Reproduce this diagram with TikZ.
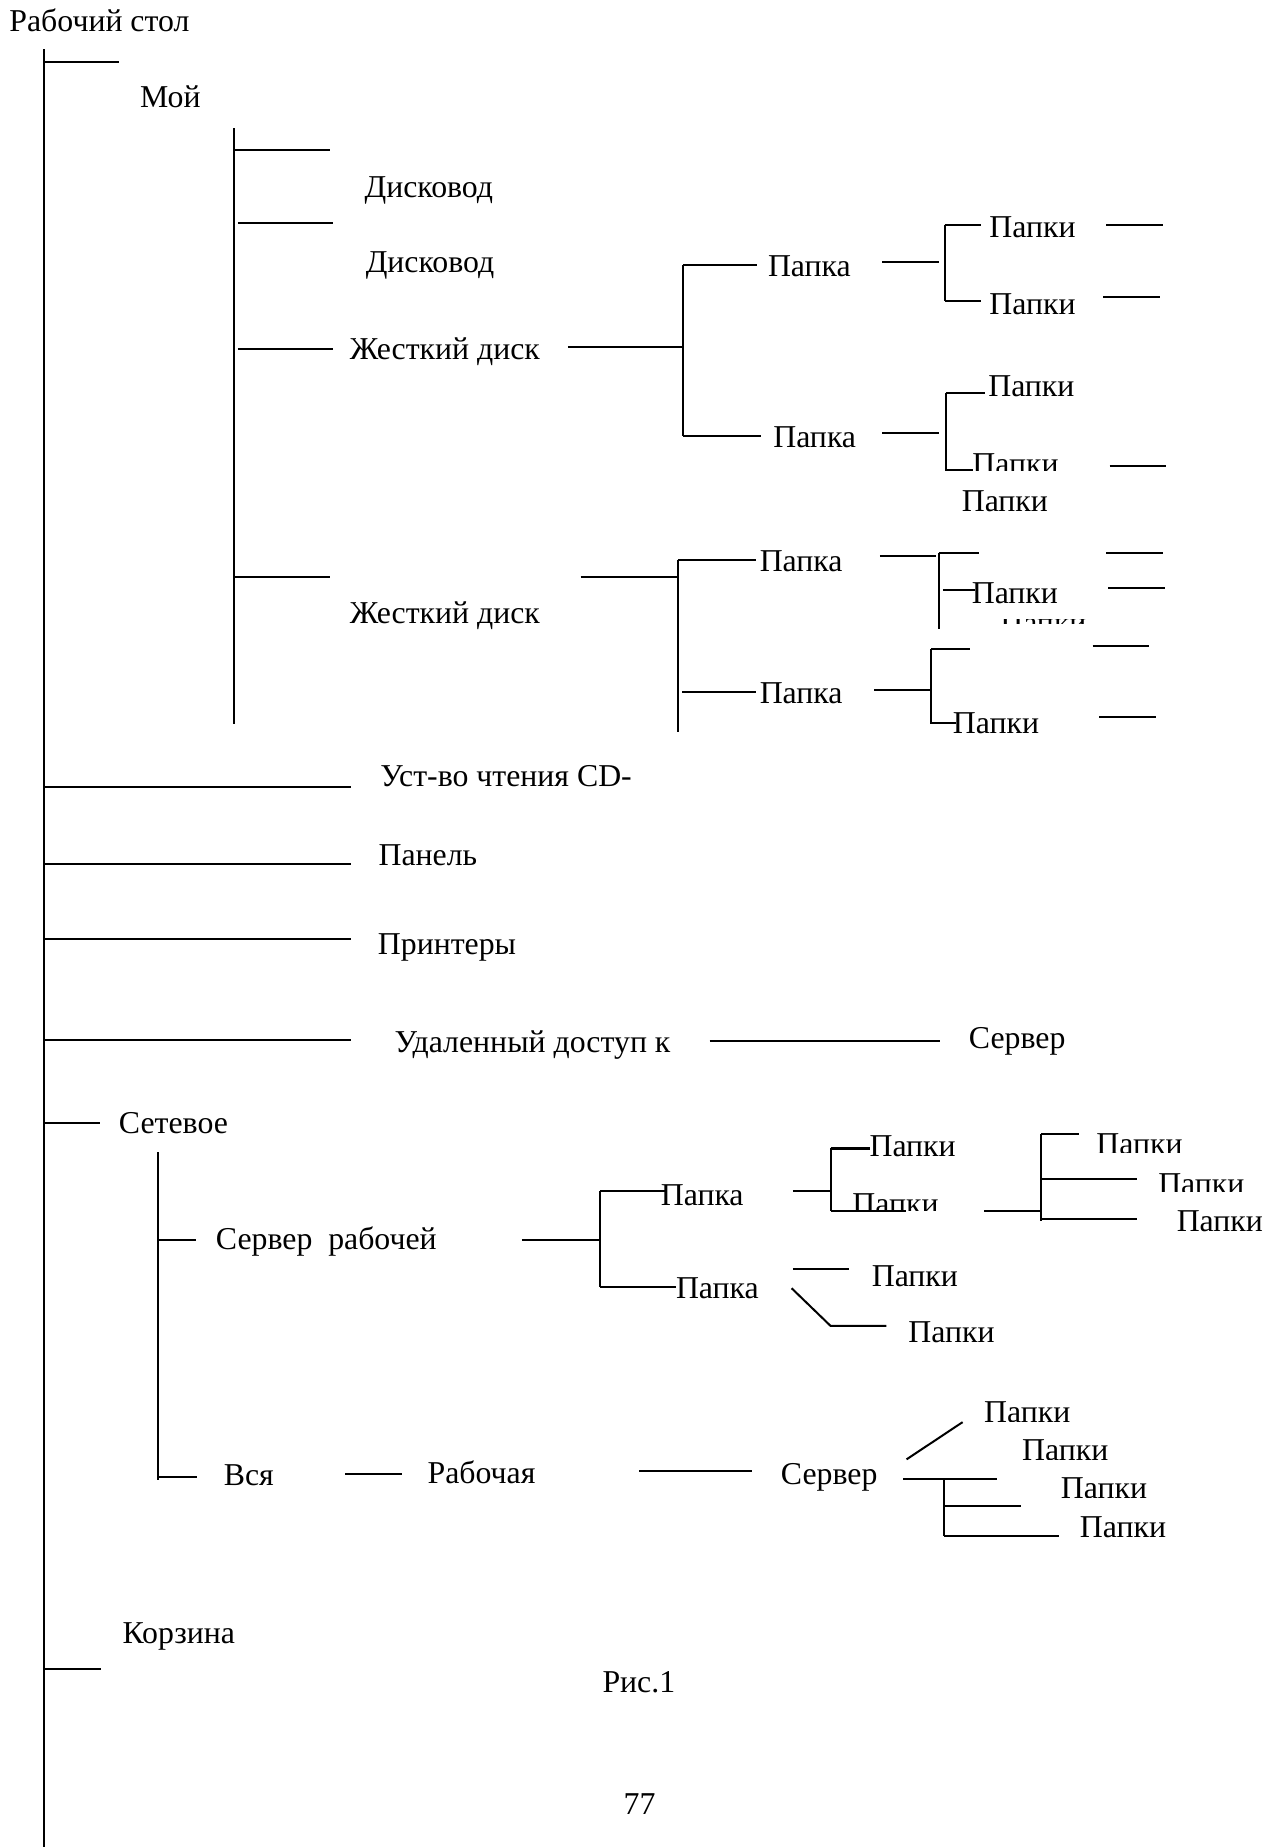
\documentclass[tikz,border=0pt]{standalone}
\usepackage{fontspec}
\setmainfont{Liberation Serif}
\begin{document}
\begin{tikzpicture}[x=0.5pt,y=-0.5pt,
  ln/.style={line width=0.85pt},
  lbl/.style={anchor=base west,inner sep=0pt,outer sep=0pt,font=\fontsize{13.5}{16}\selectfont}]
\useasboundingbox[fill=white] (0,0) rectangle (1086,1568);

% ---------- texts ----------
\node[lbl] (root) at (8,26.8) {Рабочий стол};
\node[lbl] (moi) at (119,91.5) {Мой};
\node[lbl] (disk1) at (309.5,167.5) {Дисковод};
\node[lbl] (disk2) at (310.5,231) {Дисковод};
\node[lbl] (hdd1) at (297,305) {Жесткий диск};
\node[lbl] (pa) at (652,235) {Папка};
\node[lbl] (pb) at (656.5,379.5) {Папка};
\node[lbl] (pa1) at (840,202) {Папки};
\node[lbl] (pa2) at (840,267) {Папки};
\node[lbl] (pb1) at (839,337) {Папки};
\begin{scope}
  \clip (800,370) rectangle (930,399.5);
  \node[lbl] (pb2) at (825.5,402.5) {Папки};
\end{scope}
\node[lbl] (pfree) at (816.5,434.6) {Папки};
\node[lbl] (hdd2) at (297,529) {Жесткий диск};
\node[lbl] (pc) at (645,485.5) {Папка};
\node[lbl] (pd) at (645,597.5) {Папка};
\node[lbl] (pc1) at (825,512) {Папки};
\begin{scope}
  \clip (840,526) rectangle (930,529.5);
  \node[lbl] (pc2) at (849.2,538) {Папки};
\end{scope}
\node[lbl] (pd1) at (809,622.5) {Папки};

\node[lbl] (cd) at (323,668) {Уст-во чтения CD-};
\node[lbl] (panel) at (321.4,735) {Панель};
\node[lbl] (print) at (320.8,810) {Принтеры};
\node[lbl] (remote) at (335,893.5) {Удаленный доступ к};
\node[lbl] (srv1) at (822.6,890) {Сервер};
\node[lbl] (net) at (101,962) {Сетевое};

\node[lbl] (srvw) at (183.3,1060.5) {Сервер\ \ рабочей};
\node[lbl] (pe) at (561,1023) {Папка};
\node[lbl] (pf) at (573.9,1102) {Папка};
\node[lbl] (pe1) at (738.2,982) {Папки};
\begin{scope}
  \clip (700,1000) rectangle (800,1027.8);
  \node[lbl] (pe2) at (723.7,1031) {Папки};
\end{scope}
\begin{scope}
  \clip (920,940) rectangle (1020,978);
  \node[lbl] (pg1) at (930.8,980) {Папки};
\end{scope}
\begin{scope}
  \clip (970,980) rectangle (1070,1011.7);
  \node[lbl] (pg2) at (983.3,1014) {Папки};
\end{scope}
\node[lbl] (pg3) at (999,1045.5) {Папки};
\node[lbl] (pf1) at (740.1,1092) {Папки};
\node[lbl] (pf2) at (771.2,1139.5) {Папки};

\node[lbl] (all) at (190,1261) {Вся};
\node[lbl] (work) at (363,1259.5) {Рабочая};
\node[lbl] (srv2) at (663,1260) {Сервер};
\begin{scope}
  \clip (820,1170) rectangle (920,1206.7);
  \node[lbl] (ph1) at (835.5,1208) {Папки};
\end{scope}
\begin{scope}
  \clip (850,1205) rectangle (950,1238.9);
  \node[lbl] (ph2) at (867.7,1239.5) {Папки};
\end{scope}
\begin{scope}
  \clip (890,1240) rectangle (990,1271.1);
  \node[lbl] (ph3) at (900.7,1272) {Папки};
\end{scope}
\node[lbl] (ph4) at (916.8,1305) {Папки};

\node[lbl] (trash) at (104,1395) {Корзина};
\node[lbl] (fig) at (511.5,1436.7) {Рис.1};
\node[lbl] (page) at (529.4,1540) {77};

% ---------- lines: top part ----------
\draw[ln] (37,42) -- (37,1568);
\draw[ln] (37,53) -- (101,53);
\draw[ln] (199,109) -- (199,615);
\draw[ln] (199,127) -- (280,127);
\draw[ln] (202,189) -- (283,189);
\draw[ln] (202,296) -- (283,296);
\draw[ln] (199,490) -- (280,490);
\draw[ln] (482,295) -- (580,295);
\draw[ln] (580,224.6) -- (580,370);
\draw[ln] (580,224.6) -- (643,224.6);
\draw[ln] (580,370) -- (646,370);
\draw[ln] (749,222.5) -- (797.5,222.5);
\draw[ln] (802,190.7) -- (802,255.8);
\draw[ln] (802,190.7) -- (833,190.7);
\draw[ln] (802,255.8) -- (833,255.8);
\draw[ln] (939,191) -- (987,191);
\draw[ln] (936.5,252) -- (985,252);
\draw[ln] (749,367.3) -- (797.5,367.3);
\draw[ln] (803,334) -- (803,399.5);
\draw[ln] (803,334) -- (836,334);
\draw[ln] (803,399) -- (826,399);
\draw[ln] (942,396) -- (990,396);
\draw[ln] (493,490) -- (575.5,490);
\draw[ln] (575.5,475) -- (575.5,621);
\draw[ln] (575.5,475) -- (641.7,475);
\draw[ln] (579,587.6) -- (641.7,587.6);
\draw[ln] (747,471.6) -- (795,471.6);
\draw[ln] (797,469.5) -- (797,534.4);
\draw[ln] (797,469.5) -- (831,469.5);
\draw[ln] (800.5,501) -- (828,501);
\draw[ln] (939,469.5) -- (987,469.5);
\draw[ln] (941,499) -- (989,499);
\draw[ln] (742,586) -- (790.5,586);
\draw[ln] (790.5,551) -- (790.5,615);
\draw[ln] (790.5,551) -- (823.5,551);
\draw[ln] (790.5,613.5) -- (812,613.5);
\draw[ln] (927.5,548.5) -- (975.5,548.5);
\draw[ln] (933,609) -- (981.5,609);

% ---------- lines: middle ----------
\draw[ln] (37,667.7) -- (297.6,667.7);
\draw[ln] (37,733.1) -- (298,733.1);
\draw[ln] (37,797.3) -- (298,797.3);
\draw[ln] (37,883.2) -- (298,883.2);
\draw[ln] (602.4,884) -- (797.6,884);
\draw[ln] (37,953) -- (85,953);

% ---------- lines: network ----------
\draw[ln] (133.8,978.2) -- (133.8,1256);
\draw[ln] (133.8,1052.6) -- (166.2,1052.6);
\draw[ln] (443,1052.8) -- (509.4,1052.8);
\draw[ln] (509.4,1011) -- (509.4,1093);
\draw[ln] (509.4,1011) -- (566,1011);
\draw[ln] (509.4,1093) -- (574,1093);
\draw[ln] (673.2,1011) -- (705.1,1011);
\draw[ln] (705.1,975) -- (705.1,1027.8);
\draw[ln] (705.1,975) -- (738.2,975);
\draw[ln] (705.1,1027.8) -- (769.3,1027.8);
\draw[ln] (835.4,1027.8) -- (884.1,1027.8);
\draw[ln] (884.1,962.8) -- (884.1,1036.6);
\draw[ln] (884.1,962.8) -- (916.4,962.8);
\draw[ln] (884.1,1001) -- (965,1001);
\draw[ln] (884.1,1035) -- (965,1035);
\draw[ln] (673.2,1077.5) -- (720.6,1077.5);
\draw[ln] (672,1093.6) -- (705.1,1125.6) -- (752.5,1125.6);
\draw[ln] (133.8,1253.7) -- (167.2,1253.7);
\draw[ln] (293.3,1251) -- (341.1,1251);
\draw[ln] (542.5,1248.7) -- (638.4,1248.7);
\draw[ln] (769.6,1238.9) -- (817.2,1207.3);
\draw[ln] (767,1255.2) -- (846.5,1255.2);
\draw[ln] (801.8,1255.2) -- (801.8,1304.2);
\draw[ln] (801.8,1278.7) -- (866.6,1278.7);
\draw[ln] (801.8,1304.2) -- (898.9,1304.2);
\draw[ln] (37,1416.5) -- (85.9,1416.5);
\end{tikzpicture}
\end{document}
